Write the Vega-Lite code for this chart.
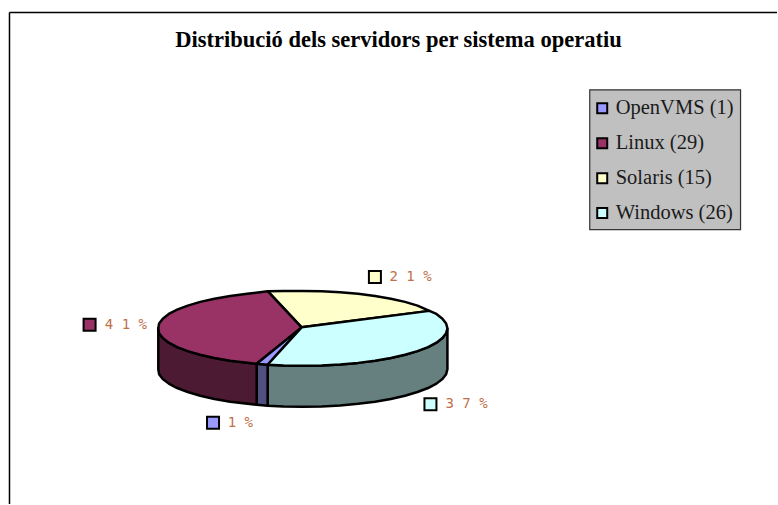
{
 "$schema":"https://vega.github.io/schema/vega-lite/v6.json",
 "width":778,"height":505,"padding":0,
 "autosize":{"type":"fit","contains":"padding"},
 "background":"white",
 "view":{"stroke":null},
 "config":{"axis":{"disable":true}},
 "datasets":{
  "frame":[{"x":9.5,"y":12.5,"x2":778,"y2":12.5},{"x":9.5,"y":12.5,"x2":9.5,"y2":505}],
  "legendBox":[{"x":590.5,"x2":741.5,"y":90,"y2":230}],
  "shapes":[
   {"part":"Windows side","o":0,"x":448,"y":329},{"part":"Windows side","o":1,"x":446.7,"y":333.9},{"part":"Windows side","o":2,"x":443,"y":338.7},{"part":"Windows side","o":3,"x":437,"y":343.4},{"part":"Windows side","o":4,"x":428.6,"y":347.8},{"part":"Windows side","o":5,"x":418,"y":351.8},{"part":"Windows side","o":6,"x":405.5,"y":355.5},{"part":"Windows side","o":7,"x":391.3,"y":358.7},{"part":"Windows side","o":8,"x":375.5,"y":361.5},{"part":"Windows side","o":9,"x":358.5,"y":363.6},{"part":"Windows side","o":10,"x":340.5,"y":365.2},{"part":"Windows side","o":11,"x":322,"y":366.2},{"part":"Windows side","o":12,"x":303,"y":366.5},{"part":"Windows side","o":13,"x":284,"y":366.2},{"part":"Windows side","o":14,"x":268,"y":365.5},
   {"part":"Windows side","o":15,"x":268,"y":406.5},{"part":"Windows side","o":16,"x":284,"y":407.2},{"part":"Windows side","o":17,"x":303,"y":407.5},{"part":"Windows side","o":18,"x":322,"y":407.2},{"part":"Windows side","o":19,"x":340.5,"y":406.2},{"part":"Windows side","o":20,"x":358.5,"y":404.6},{"part":"Windows side","o":21,"x":375.5,"y":402.5},{"part":"Windows side","o":22,"x":391.3,"y":399.7},{"part":"Windows side","o":23,"x":405.5,"y":396.5},{"part":"Windows side","o":24,"x":418,"y":392.8},{"part":"Windows side","o":25,"x":428.6,"y":388.8},{"part":"Windows side","o":26,"x":437,"y":384.4},{"part":"Windows side","o":27,"x":443,"y":379.7},{"part":"Windows side","o":28,"x":446.7,"y":374.9},{"part":"Windows side","o":29,"x":448,"y":370},{"part":"Windows side","o":30,"x":448,"y":329},
   {"part":"OpenVMS side","o":0,"x":268,"y":365.5},{"part":"OpenVMS side","o":1,"x":257,"y":364.5},{"part":"OpenVMS side","o":2,"x":257,"y":405.5},{"part":"OpenVMS side","o":3,"x":268,"y":406.5},{"part":"OpenVMS side","o":4,"x":268,"y":365.5},
   {"part":"Linux side","o":0,"x":257,"y":364.5},{"part":"Linux side","o":1,"x":230.5,"y":361.5},{"part":"Linux side","o":2,"x":214.7,"y":358.7},{"part":"Linux side","o":3,"x":200.5,"y":355.5},{"part":"Linux side","o":4,"x":188,"y":351.8},{"part":"Linux side","o":5,"x":177.4,"y":347.8},{"part":"Linux side","o":6,"x":169,"y":343.4},{"part":"Linux side","o":7,"x":163,"y":338.7},{"part":"Linux side","o":8,"x":159.3,"y":333.9},{"part":"Linux side","o":9,"x":158.5,"y":329},
   {"part":"Linux side","o":10,"x":158.5,"y":370},{"part":"Linux side","o":11,"x":159.3,"y":374.9},{"part":"Linux side","o":12,"x":163,"y":379.7},{"part":"Linux side","o":13,"x":169,"y":384.4},{"part":"Linux side","o":14,"x":177.4,"y":388.8},{"part":"Linux side","o":15,"x":188,"y":392.8},{"part":"Linux side","o":16,"x":200.5,"y":396.5},{"part":"Linux side","o":17,"x":214.7,"y":399.7},{"part":"Linux side","o":18,"x":230.5,"y":402.5},{"part":"Linux side","o":19,"x":257,"y":405.5},{"part":"Linux side","o":20,"x":257,"y":364.5},
   {"part":"Solaris","o":0,"x":302,"y":328},{"part":"Solaris","o":1,"x":268,"y":291.8},{"part":"Solaris","o":2,"x":284,"y":291.7},{"part":"Solaris","o":3,"x":303,"y":291.5},{"part":"Solaris","o":4,"x":322,"y":291.8},{"part":"Solaris","o":5,"x":340.5,"y":292.8},{"part":"Solaris","o":6,"x":358.5,"y":294.4},{"part":"Solaris","o":7,"x":375.5,"y":296.5},{"part":"Solaris","o":8,"x":391.3,"y":299.3},{"part":"Solaris","o":9,"x":405.5,"y":302.5},{"part":"Solaris","o":10,"x":418,"y":306.2},{"part":"Solaris","o":11,"x":430,"y":311.5},{"part":"Solaris","o":12,"x":302,"y":328},
   {"part":"Linux","o":0,"x":302,"y":328},{"part":"Linux","o":1,"x":257,"y":364.5},{"part":"Linux","o":2,"x":230.5,"y":361.5},{"part":"Linux","o":3,"x":214.7,"y":358.7},{"part":"Linux","o":4,"x":200.5,"y":355.5},{"part":"Linux","o":5,"x":188,"y":351.8},{"part":"Linux","o":6,"x":177.4,"y":347.8},{"part":"Linux","o":7,"x":169,"y":343.4},{"part":"Linux","o":8,"x":163,"y":338.7},{"part":"Linux","o":9,"x":159.3,"y":333.9},{"part":"Linux","o":10,"x":158.5,"y":329},{"part":"Linux","o":11,"x":159.3,"y":324.1},{"part":"Linux","o":12,"x":163,"y":319.3},{"part":"Linux","o":13,"x":169,"y":314.6},{"part":"Linux","o":14,"x":177.4,"y":310.3},{"part":"Linux","o":15,"x":188,"y":306.2},{"part":"Linux","o":16,"x":200.5,"y":302.5},{"part":"Linux","o":17,"x":214.7,"y":299.3},{"part":"Linux","o":18,"x":230.5,"y":296.5},{"part":"Linux","o":19,"x":247.5,"y":294.4},{"part":"Linux","o":20,"x":268,"y":291.8},{"part":"Linux","o":21,"x":302,"y":328},
   {"part":"OpenVMS","o":0,"x":302,"y":328},{"part":"OpenVMS","o":1,"x":268,"y":365.5},{"part":"OpenVMS","o":2,"x":257,"y":364.5},{"part":"OpenVMS","o":3,"x":302,"y":328},
   {"part":"Windows","o":0,"x":302,"y":328},{"part":"Windows","o":1,"x":430,"y":311.5},{"part":"Windows","o":2,"x":437,"y":314.6},{"part":"Windows","o":3,"x":443,"y":319.3},{"part":"Windows","o":4,"x":446.7,"y":324.1},{"part":"Windows","o":5,"x":448,"y":329},{"part":"Windows","o":6,"x":446.7,"y":333.9},{"part":"Windows","o":7,"x":443,"y":338.7},{"part":"Windows","o":8,"x":437,"y":343.4},{"part":"Windows","o":9,"x":428.6,"y":347.8},{"part":"Windows","o":10,"x":418,"y":351.8},{"part":"Windows","o":11,"x":405.5,"y":355.5},{"part":"Windows","o":12,"x":391.3,"y":358.7},{"part":"Windows","o":13,"x":375.5,"y":361.5},{"part":"Windows","o":14,"x":358.5,"y":363.6},{"part":"Windows","o":15,"x":340.5,"y":365.2},{"part":"Windows","o":16,"x":322,"y":366.2},{"part":"Windows","o":17,"x":303,"y":366.5},{"part":"Windows","o":18,"x":284,"y":366.2},{"part":"Windows","o":19,"x":268,"y":365.5},{"part":"Windows","o":20,"x":302,"y":328}
  ],
  "keys":[
   {"part":"OpenVMS","label":"OpenVMS (1)","x":603,"y":108.5,"lx":616.5},
   {"part":"Linux","label":"Linux  (29)","x":603,"y":143.5,"lx":616.5},
   {"part":"Solaris","label":"Solaris (15)","x":603,"y":178.5,"lx":616.5},
   {"part":"Windows","label":"Windows (26)","x":603,"y":213.5,"lx":616.5}
  ],
  "pcts":[
   {"part":"OpenVMS","label":"1 %","x":213.3,"y":423.5,"lx":228},
   {"part":"Linux","label":"4 1 %","x":89.7,"y":325.5,"lx":105},
   {"part":"Solaris","label":"2 1 %","x":375.4,"y":277.5,"lx":390},
   {"part":"Windows","label":"3 7 %","x":431,"y":405,"lx":446}
  ],
  "title":[{"label":"Distribució dels servidors per sistema operatiu","x":399,"y":40}]
 },
 "layer":[
  {"data":{"name":"frame"},"mark":{"type":"rule","color":"black","strokeWidth":1.5},
   "encoding":{"x":{"field":"x","type":"quantitative","scale":{"domain":[0,778],"nice":false},"axis":null},"y":{"field":"y","type":"quantitative","scale":{"domain":[505,0],"nice":false},"axis":null},"x2":{"field":"x2"},"y2":{"field":"y2"}}},
  {"data":{"name":"legendBox"},"mark":{"type":"rect","fill":"#C0C0C0","stroke":"#333333","strokeWidth":1.2},
   "encoding":{"x":{"field":"x","type":"quantitative"},"x2":{"field":"x2"},"y":{"field":"y","type":"quantitative"},"y2":{"field":"y2"}}},
  {"data":{"name":"shapes"},"mark":{"type":"line","stroke":"black","strokeWidth":2.5,"interpolate":"linear","strokeJoin":"round"},
   "encoding":{"x":{"field":"x","type":"quantitative"},"y":{"field":"y","type":"quantitative"},"order":{"field":"o","type":"quantitative"},
    "fill":{"field":"part","type":"nominal","legend":null,"scale":{"domain":["Windows side","OpenVMS side","Linux side","Solaris","Linux","OpenVMS","Windows"],"range":["#668080","#4F4F80","#4D1A33","#FFFFCC","#993366","#9999FF","#CCFFFF"]}}}},
  {"data":{"name":"keys"},"mark":{"type":"point","shape":"square","size":100,"filled":true,"stroke":"black","strokeWidth":2,"opacity":1},
   "encoding":{"x":{"field":"x","type":"quantitative"},"y":{"field":"y","type":"quantitative"},
    "fill":{"field":"part","type":"nominal","legend":null}}},
  {"data":{"name":"pcts"},"mark":{"type":"point","shape":"square","size":144,"filled":true,"stroke":"black","strokeWidth":2,"opacity":1},
   "encoding":{"x":{"field":"x","type":"quantitative"},"y":{"field":"y","type":"quantitative"},
    "fill":{"field":"part","type":"nominal","legend":null}}},
  {"data":{"name":"keys"},"mark":{"type":"text","align":"left","baseline":"middle","font":"Liberation Serif","fontSize":20.5,"color":"#1a1a1a"},
   "encoding":{"x":{"field":"lx","type":"quantitative"},"y":{"field":"y","type":"quantitative"},"text":{"field":"label"}}},
  {"data":{"name":"pcts"},"mark":{"type":"text","align":"left","baseline":"middle","font":"DejaVu Sans Mono","fontSize":14,"color":"#C0704A"},
   "encoding":{"x":{"field":"lx","type":"quantitative"},"y":{"field":"y","type":"quantitative"},"text":{"field":"label"}}},
  {"data":{"name":"title"},"mark":{"type":"text","align":"center","baseline":"middle","font":"Liberation Serif","fontSize":22.5,"fontWeight":"bold","color":"black"},
   "encoding":{"x":{"field":"x","type":"quantitative"},"y":{"field":"y","type":"quantitative"},"text":{"field":"label"}}}
 ]
}
